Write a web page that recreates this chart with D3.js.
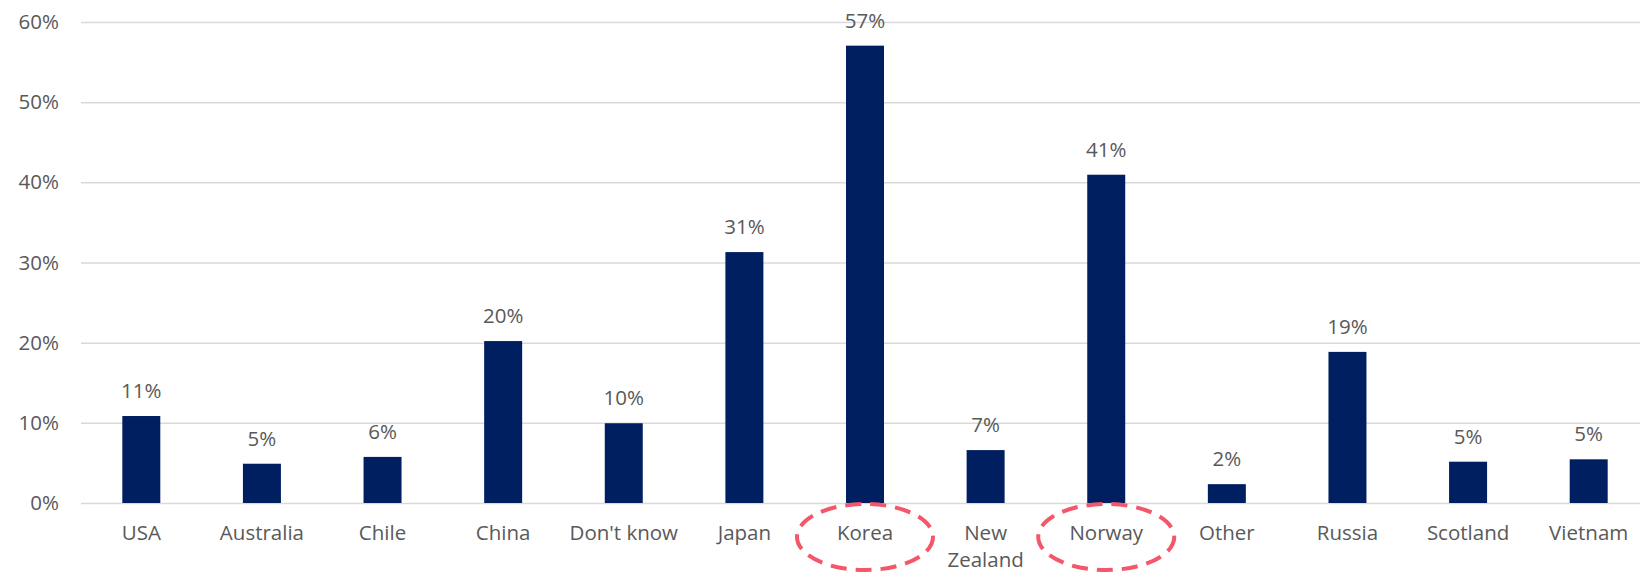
<!DOCTYPE html>
<html>
<head>
<meta charset="utf-8">
<script src="https://cdn.jsdelivr.net/npm/d3@7"></script>
<style>
  body { margin: 0; background: #fff; }
  text { font-family: 'Open Sans', 'Liberation Sans', sans-serif; fill: #595959; }
</style>
</head>
<body>
<div id="chart"></div>
<script>
const categories = ['USA', 'Australia', 'Chile', 'China', "Don't know", 'Japan', 'Korea',
  'New Zealand', 'Norway', 'Other', 'Russia', 'Scotland', 'Vietnam']
const values = [10.85, 4.9, 5.75, 20.2, 9.95, 31.3, 57.05, 6.6, 40.95, 2.35, 18.85, 5.15, 5.45]
const yTicks = [0, 10, 20, 30, 40, 50, 60]
const highlighted = ['Korea', 'Norway']

const fullWidth = 1640,
  fullHeight = 575,
  margin = { top: 22, right: -9, bottom: 72, left: 81 },
  width = fullWidth - margin.left - margin.right,
  height = fullHeight - margin.top - margin.bottom

const svg = d3.select('#chart')
  .append('svg')
    .attr('width', fullWidth)
    .attr('height', fullHeight)
  .append('g')
    .attr('transform', `translate(${margin.left}, ${margin.top})`)

const xScale = d3.scaleBand()
  .domain(categories)
  .range([0, width])
  .paddingInner(0.685)
  .paddingOuter(0.3425)

const yScale = d3.scaleLinear()
  .domain([0, 60])
  .range([height, 0])

// gridlines + y labels
const yAxis = svg.append('g')
  .call(d3.axisLeft(yScale).tickValues(yTicks).tickFormat(d => d + '%').tickSize(-width).tickPadding(22))
yAxis.select('.domain').remove()
yAxis.selectAll('.tick line').attr('stroke', '#d9d9d9').attr('stroke-width', 1.5)
yAxis.selectAll('.tick text').style('font-size', '20.5px').attr('fill', '#595959')

svg.selectAll('.bar')
  .data(values)
  .enter()
  .append('rect')
    .attr('class', 'bar')
    .attr('x', (d, i) => xScale(categories[i]))
    .attr('width', xScale.bandwidth())
    .attr('y', d => yScale(d))
    .attr('height', d => height - yScale(d))
    .attr('fill', '#001f60')

svg.selectAll('.val')
  .data(values)
  .enter()
  .append('text')
    .attr('class', 'val')
    .attr('x', (d, i) => xScale(categories[i]) + xScale.bandwidth() / 2)
    .attr('y', d => yScale(d) - 18)
    .attr('text-anchor', 'middle')
    .style('font-size', '20.5px')
    .text(d => Math.round(d) + '%')

// category labels (wrap New Zealand)
const xLabels = svg.append('g')
  .attr('transform', `translate(0, ${height})`)
xLabels.selectAll('text')
  .data(categories)
  .enter()
  .append('text')
    .attr('x', d => xScale(d) + xScale.bandwidth() / 2)
    .attr('y', 37)
    .attr('text-anchor', 'middle')
    .style('font-size', '20.5px')
    .each(function (d) {
      const words = d === 'New Zealand' ? ['New', 'Zealand'] : [d]
      d3.select(this).selectAll('tspan')
        .data(words)
        .enter()
        .append('tspan')
          .attr('x', xScale(d) + xScale.bandwidth() / 2)
          .attr('dy', (w, j) => j === 0 ? 0 : 27)
          .text(w => w)
    })

// dashed ellipses round highlighted labels
xLabels.selectAll('ellipse')
  .data(highlighted)
  .enter()
  .append('ellipse')
    .attr('cx', d => xScale(d) + xScale.bandwidth() / 2)
    .attr('cy', 34)
    .attr('rx', 68)
    .attr('ry', 33)
    .attr('fill', 'none')
    .attr('stroke', '#f4566a')
    .attr('stroke-width', 4)
    .attr('stroke-dasharray', '16 9')
</script>
</body>
</html>
